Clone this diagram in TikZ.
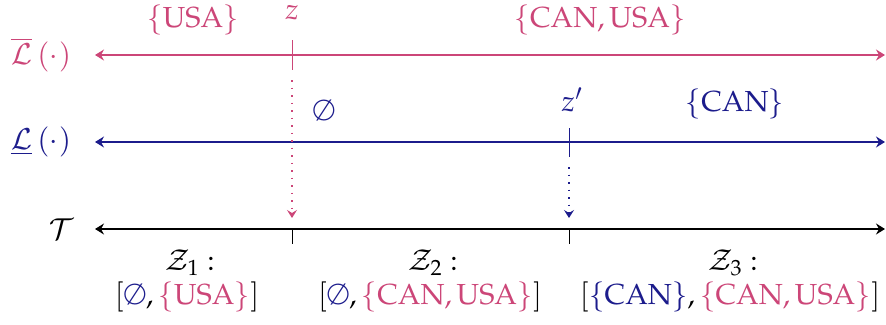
\documentclass[tikz,border=0pt]{standalone}
\usepackage{mathpazo}
\usetikzlibrary{arrows.meta}
\definecolor{pk}{RGB}{204,70,120}
\definecolor{nv}{RGB}{28,28,140}
\begin{document}
\begin{tikzpicture}[x=1pt,y=-1pt,
  lbl/.style={inner sep=0pt, font=\fontsize{29}{34}\selectfont},
  axis/.style={line width=1.6pt, {Stealth[length=9pt,width=11pt,inset=3pt]}-{Stealth[length=9pt,width=11pt,inset=3pt]}},
  tick/.style={line width=0.9pt},
  drop/.style={line width=1.7pt, dash pattern=on 1.7pt off 5.8pt, -{Stealth[length=8pt,width=10pt,inset=3pt]}}]
\useasboundingbox (0,0) rectangle (886,324);
% axes
\coordinate (tl) at (95,55);  \coordinate (tr) at (885,55);
\coordinate (ml) at (95,142); \coordinate (mr) at (885,142);
\coordinate (bl) at (95,229); \coordinate (br) at (885,229);
\draw[axis,pk] (tl) -- (tr);
\draw[axis,nv] (ml) -- (mr);
\draw[axis,black] (bl) -- (br);
% ticks
\coordinate (zt1) at (292,40); \coordinate (zt2) at (292,70);
\coordinate (zd1) at (292,80); \coordinate (zd2) at (292,218);
\coordinate (zb1) at (292,229); \coordinate (zb2) at (292,244);
\coordinate (pt1) at (569,128); \coordinate (pt2) at (569,157);
\coordinate (pd1) at (569,167); \coordinate (pd2) at (569,218);
\coordinate (pb1) at (569,229); \coordinate (pb2) at (569,244);
\draw[tick,pk] (zt1) -- (zt2);
\draw[drop,pk] (zd1) -- (zd2);
\draw[tick,black] (zb1) -- (zb2);
\draw[tick,nv] (pt1) -- (pt2);
\draw[drop,nv] (pd1) -- (pd2);
\draw[tick,black] (pb1) -- (pb2);
% labels
\node[lbl,text=pk] (lbar) at (41,55) {$\overline{\mathcal{L}}\,(\cdot)$};
\node[lbl,text=nv] (lund) at (41,142) {$\underline{\mathcal{L}}\,(\cdot)$};
\node[lbl,text=black] (tt) at (62,229) {$\mathcal{T}$};
\node[lbl,text=pk] (usa) at (193,20) {$\{\mathrm{USA}\}$};
\node[lbl,text=pk] (z) at (292,13) {$z$};
\node[lbl,text=pk] (canusa) at (600,20) {$\{\mathrm{CAN},\mathrm{USA}\}$};
\node[lbl,text=nv] (empty) at (324,110) {$\emptyset$};
\node[lbl,text=nv] (zp) at (572,100) {$z'$};
\node[lbl,text=nv] (can) at (735,104) {$\{\mathrm{CAN}\}$};
\node[lbl] (z1) at (190,263) {$\mathcal{Z}_1:$};
\node[lbl] (z2) at (433,263) {$\mathcal{Z}_2:$};
\node[lbl] (z3) at (733,263) {$\mathcal{Z}_3:$};
\node[lbl] (i1) at (187,297) {$[\textcolor{nv}{\emptyset},\textcolor{pk}{\{\mathrm{USA}\}}]$};
\node[lbl] (i2) at (430,297) {$[\textcolor{nv}{\emptyset},\textcolor{pk}{\{\mathrm{CAN},\mathrm{USA}\}}]$};
\node[lbl] (i3) at (730,297) {$[\textcolor{nv}{\{\mathrm{CAN}\}},\textcolor{pk}{\{\mathrm{CAN},\mathrm{USA}\}}]$};
\end{tikzpicture}
\end{document}
